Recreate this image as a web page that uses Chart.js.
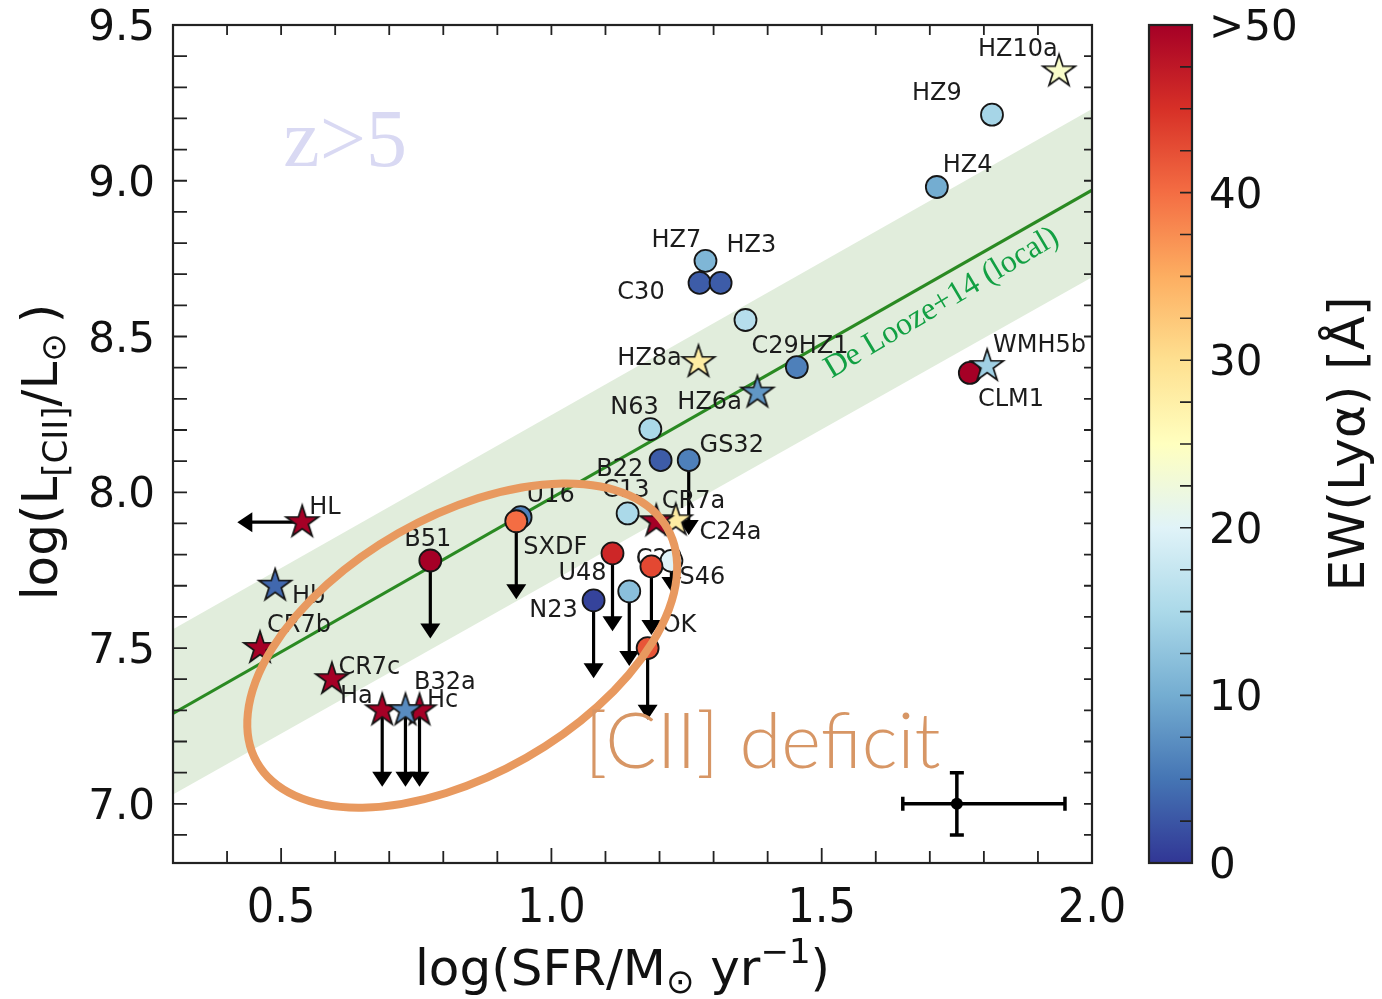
<!DOCTYPE html>
<html>
<head>
<meta charset="utf-8">
<script src="https://cdn.jsdelivr.net/npm/chart.js@4.4.1/dist/chart.umd.min.js"></script>
<style>
  html, body { margin: 0; padding: 0; background: #fff; }
  #wrap { width: 1382px; height: 999px; position: relative; }
</style>
</head>
<body>
<div id="wrap"><canvas id="chart"></canvas></div>
<script>
/* ===== [CII] vs SFR at z>5 ===== */

// axes
const X_MIN = 0.3, X_MAX = 2.0;
const Y_MIN = 6.81, Y_MAX = 9.5;
const X_TICKS = [0.5, 1.0, 1.5, 2.0];
const Y_TICKS = [7.0, 7.5, 8.0, 8.5, 9.0, 9.5];
const CB_TICKS = [0, 10, 20, 30, 40, 50];
const CB_TICK_LABELS = ["0", "10", "20", "30", "40", ">50"];
const EW_MAX = 50;

// De Looze+14 local relation and its scatter band (read at x = 0.3 and 2.0)
const fitX = [0.3, 2.0];
const fitY = [7.29, 8.97];
const bandHi = [7.56, 9.23];
const bandLo = [7.03, 8.69];

// circles: log SFR, log L[CII], EW(Lya), upper-limit depth (dex, 0 = detection)
const circName  = ["HZ7", "C30", "HZ3", "HZ9", "HZ4", "C29", "HZ1", "CLM1", "N63", "B22", "GS32", "C13", "U16", "SXDF", "B51", "U48", "S46", "C20", "N23", "C24", "OK"];
const circSFR   = [1.285, 1.274, 1.313, 1.815, 1.713, 1.359, 1.454, 1.774, 1.183, 1.202, 1.254, 1.141, 0.943, 0.935, 0.776, 1.113, 1.222, 1.185, 1.078, 1.144, 1.178];
const circCII   = [8.743, 8.672, 8.672, 9.212, 8.980, 8.553, 8.402, 8.383, 8.203, 8.103, 8.103, 7.932, 7.920, 7.907, 7.781, 7.804, 7.780, 7.762, 7.653, 7.682, 7.500];
const circEW    = [11, 3, 3, 14.5, 10, 16, 6, 50, 15, 3, 6, 15, 6, 40, 50, 46, 20, 43, 1, 12, 42];
const circLimit = [0, 0, 0, 0, 0, 0, 0, 0, 0, 0, 0.24, 0, 0, 0.25, 0.25, 0.25, 0.10, 0.22, 0.25, 0.24, 0.23];

// stars (multi-component systems)
const starName  = ["HL", "Hb", "CR7b", "CR7c", "Ha", "Hc", "B32a", "HZ8a", "HZ6a", "C24a", "CR7a", "HZ10a", "WMH5b"];
const starSFR   = [0.539, 0.489, 0.461, 0.594, 0.687, 0.756, 0.730, 1.272, 1.381, 1.230, 1.194, 1.939, 1.806];
const starCII   = [7.904, 7.700, 7.500, 7.400, 7.300, 7.300, 7.300, 8.418, 8.320, 7.910, 7.907, 9.351, 8.405];
const starEW    = [50, 4, 50, 50, 50, 50, 7, 28, 8, 28, 50, 24, 14];
const starLimit = [0, 0, 0, 0, 0.245, 0.245, 0.245, 0, 0, 0, 0, 0, 0];
const starSFRLimit = [0.12, 0, 0, 0, 0, 0, 0, 0, 0, 0, 0, 0, 0];   // arrow to the left

// name tags: text, log SFR, log L[CII] of the text's left baseline
const labelText = ["HZ10a", "HZ9", "HZ4", "HZ7", "HZ3", "C30", "HZ8a", "C29HZ1", "WMH5b", "CLM1", "N63", "HZ6a", "GS32", "B22", "C13", "U16", "CR7a", "C24a", "HL", "B51", "SXDF", "U48", "C20", "S46", "N23", "OK", "Hb", "CR7b", "CR7c", "Ha", "B32a", "Hc"];
const labelX    = [1.789, 1.667, 1.724, 1.185, 1.324, 1.122, 1.122, 1.370, 1.817, 1.789, 1.109, 1.233, 1.274, 1.083, 1.094, 0.954, 1.204, 1.274, 0.552, 0.728, 0.948, 1.013, 1.156, 1.237, 0.959, 1.204, 0.520, 0.474, 0.606, 0.609, 0.746, 0.770];
const labelY    = [9.399, 9.260, 9.029, 8.788, 8.772, 8.621, 8.408, 8.447, 8.450, 8.277, 8.251, 8.267, 8.129, 8.051, 7.984, 7.968, 7.949, 7.849, 7.929, 7.826, 7.801, 7.720, 7.762, 7.707, 7.601, 7.550, 7.646, 7.550, 7.418, 7.322, 7.367, 7.312];

// typical uncertainty
const errPoint = { x: 1.75, y: 7.0, xLo: 0.10, xHi: 0.20, yLo: 0.10, yHi: 0.10 };

/* ===== colour map (RdYlBu reversed) ===== */
const RDYLBU_R = ["#313695", "#4575b4", "#74add1", "#abd9e9", "#e0f3f8", "#ffffbf",
                  "#fee090", "#fdae61", "#f46d43", "#d73027", "#a50026"];
const hex = h => [1, 3, 5].map(i => parseInt(h.slice(i, i + 2), 16));
function cmap(t) {
  t = Math.min(1, Math.max(0, t));
  const p = t * (RDYLBU_R.length - 1), i = Math.min(Math.floor(p), RDYLBU_R.length - 2), f = p - i;
  const a = hex(RDYLBU_R[i]), b = hex(RDYLBU_R[i + 1]);
  return "rgb(" + a.map((v, k) => Math.round(v + (b[k] - v) * f)).join(",") + ")";
}
const ewColor = ew => cmap(ew / EW_MAX);

function starCanvas(fill) {
  const R = 17, pad = 3, size = 2 * (R + pad);
  const c = document.createElement("canvas");
  c.width = c.height = size;
  const g = c.getContext("2d");
  g.translate(size / 2, size / 2);
  g.beginPath();
  for (let i = 0; i < 10; i++) {
    const r = i % 2 ? R * 0.382 : R, a = -Math.PI / 2 + i * Math.PI / 5;
    g.lineTo(r * Math.cos(a), r * Math.sin(a));
  }
  g.closePath();
  g.fillStyle = fill; g.fill();
  g.lineWidth = 1.7; g.strokeStyle = "#141414"; g.lineJoin = "miter"; g.stroke();
  return c;
}

/* ===== drawing helpers ===== */
const SANS = '"DejaVu Sans"';
const COND = '"DejaVu Sans Condensed"';

function richWidth(ctx, parts) {
  let w = 0;
  for (const p of parts) { ctx.font = p.font; w += ctx.measureText(p.t).width; }
  return w;
}
function drawRich(ctx, parts, x, y) {
  let cx = x;
  for (const p of parts) {
    ctx.font = p.font;
    ctx.fillText(p.t, cx, y + (p.dy || 0));
    cx += ctx.measureText(p.t).width;
  }
}

function arrowHead(ctx, x, y, dir) {
  // dir: "down" or "left", tip at (x, y)
  const w = 10, h = 15;
  ctx.beginPath();
  if (dir === "down") { ctx.moveTo(x, y); ctx.lineTo(x - w, y - h); ctx.lineTo(x + w, y - h); }
  else { ctx.moveTo(x, y); ctx.lineTo(x + h, y - w); ctx.lineTo(x + h, y + w); }
  ctx.closePath(); ctx.fill();
}

function drawLimits(chart) {
  const { ctx, scales: { x, y } } = chart;
  ctx.save();
  ctx.strokeStyle = "#000"; ctx.fillStyle = "#000"; ctx.lineWidth = 3.2;
  const down = (sx, sy, d) => {
    if (!d) return;
    const px = x.getPixelForValue(sx), y0 = y.getPixelForValue(sy), y1 = y.getPixelForValue(sy - d);
    ctx.beginPath(); ctx.moveTo(px, y0); ctx.lineTo(px, y1 - 8); ctx.stroke();
    arrowHead(ctx, px, y1, "down");
  };
  circSFR.forEach((v, i) => down(v, circCII[i], circLimit[i]));
  starSFR.forEach((v, i) => down(v, starCII[i], starLimit[i]));
  starSFR.forEach((v, i) => {
    const d = starSFRLimit[i];
    if (!d) return;
    const py = y.getPixelForValue(starCII[i]), x0 = x.getPixelForValue(v), x1 = x.getPixelForValue(v - d);
    ctx.beginPath(); ctx.moveTo(x0, py); ctx.lineTo(x1 + 8, py); ctx.stroke();
    arrowHead(ctx, x1, py, "left");
  });
  ctx.restore();
}

function drawErrorBar(chart) {
  const { ctx, scales: { x, y } } = chart;
  const e = errPoint;
  const cx = x.getPixelForValue(e.x), cy = y.getPixelForValue(e.y);
  const xl = x.getPixelForValue(e.x - e.xLo), xr = x.getPixelForValue(e.x + e.xHi);
  const yt = y.getPixelForValue(e.y + e.yHi), yb = y.getPixelForValue(e.y - e.yLo);
  ctx.save();
  ctx.strokeStyle = "#000"; ctx.fillStyle = "#000"; ctx.lineWidth = 3.5;
  ctx.beginPath();
  ctx.moveTo(xl, cy); ctx.lineTo(xr, cy);
  ctx.moveTo(cx, yt); ctx.lineTo(cx, yb);
  ctx.moveTo(xl, cy - 7); ctx.lineTo(xl, cy + 7);
  ctx.moveTo(xr, cy - 7); ctx.lineTo(xr, cy + 7);
  ctx.moveTo(cx - 7, yt); ctx.lineTo(cx + 7, yt);
  ctx.moveTo(cx - 7, yb); ctx.lineTo(cx + 7, yb);
  ctx.stroke();
  ctx.beginPath(); ctx.arc(cx, cy, 6, 0, 2 * Math.PI); ctx.fill();
  ctx.restore();
}

function drawNameTags(chart) {
  const { ctx, scales: { x, y } } = chart;
  ctx.save();
  ctx.fillStyle = "#1c1c1c"; ctx.font = "24px " + SANS;
  ctx.textAlign = "left"; ctx.textBaseline = "alphabetic";
  labelText.forEach((t, i) => ctx.fillText(t, x.getPixelForValue(labelX[i]), y.getPixelForValue(labelY[i])));
  ctx.restore();
}

function drawAnnotations(chart) {
  const { ctx, chartArea: a, scales: { x, y } } = chart;
  ctx.save();
  // De Looze label along the relation
  const p0 = [x.getPixelForValue(fitX[0]), y.getPixelForValue(fitY[0])];
  const p1 = [x.getPixelForValue(fitX[1]), y.getPixelForValue(fitY[1])];
  const ang = Math.atan2(p1[1] - p0[1], p1[0] - p0[0]);
  ctx.save();
  ctx.translate(x.getPixelForValue(1.518), y.getPixelForValue(8.365));
  ctx.rotate(ang - 0.02);
  ctx.fillStyle = "#12a043"; ctx.font = '32px "Liberation Serif"';
  ctx.textAlign = "left"; ctx.textBaseline = "alphabetic";
  ctx.fillText("De Looze+14 (local)", 0, 0);
  ctx.restore();

  // redshift tag
  ctx.fillStyle = "#d9d9f3"; ctx.font = '82px "Liberation Serif"';
  ctx.textAlign = "left"; ctx.textBaseline = "alphabetic";
  ctx.fillText("z>5", a.left + 0.12 * (a.right - a.left), a.top + 0.168 * (a.bottom - a.top));

  // deficit region
  const pxPerX = x.getPixelForValue(1) - x.getPixelForValue(0);
  ctx.strokeStyle = "#e8995f"; ctx.lineWidth = 8;
  ctx.beginPath();
  ctx.ellipse(x.getPixelForValue(0.835), y.getPixelForValue(7.508), 0.437 * pxPerX, 0.239 * pxPerX,
    -29.7 * Math.PI / 180, 0, 2 * Math.PI);
  ctx.stroke();
  ctx.fillStyle = "#d79665"; ctx.font = '300 76px "Lato"';
  ctx.fillText("[CII] deficit", a.left + 0.448 * (a.right - a.left), a.top + 0.887 * (a.bottom - a.top));
  ctx.restore();
}

function drawAxes(chart) {
  const { ctx, chartArea: a, scales: { x, y } } = chart;
  ctx.save();
  ctx.strokeStyle = "#222"; ctx.lineWidth = 1.8;
  ctx.beginPath();
  for (let k = 4; k <= 19; k++) {
    const v = k / 10, px = x.getPixelForValue(v), major = k % 5 === 0;
    ctx.moveTo(px, a.bottom); ctx.lineTo(px, a.bottom - (major ? 15 : 12));
    ctx.moveTo(px, a.top); ctx.lineTo(px, a.top + 10);
  }
  for (let k = 69; k <= 94; k++) {
    const py = y.getPixelForValue(k / 10);
    ctx.moveTo(a.left, py); ctx.lineTo(a.left + 14, py);
    ctx.moveTo(a.right, py); ctx.lineTo(a.right - 8, py);
  }
  ctx.stroke();
  ctx.lineWidth = 2.2; ctx.strokeStyle = "#222";
  ctx.strokeRect(a.left, a.top, a.right - a.left, a.bottom - a.top);

  // tick labels
  ctx.fillStyle = "#111";
  ctx.textBaseline = "alphabetic";
  ctx.textAlign = "center"; ctx.font = "48px " + COND;
  X_TICKS.forEach(v => ctx.fillText(v.toFixed(1), x.getPixelForValue(v), a.bottom + 59));
  ctx.textAlign = "right"; ctx.font = "42px " + SANS;
  Y_TICKS.forEach(v => ctx.fillText(v.toFixed(1), a.left - 18, y.getPixelForValue(v) + 15));

  // axis titles
  const big = "50px " + SANS, small = "34px " + SANS;
  ctx.textAlign = "left";
  const xt = [
    { t: "log(SFR/M", font: big }, { t: "\u2299", font: small, dy: 8 },
    { t: " yr", font: big }, { t: "\u22121", font: small, dy: -22 }, { t: ")", font: big }];
  const xw = richWidth(ctx, xt);
  drawRich(ctx, xt, (a.left + a.right) / 2 - xw / 2 - 10, 985);

  const yt = [
    { t: "log(L", font: big }, { t: "[CII]", font: small, dy: 10 },
    { t: "/L", font: big }, { t: "\u2299", font: small, dy: 8 }, { t: "\u2009)", font: big }];
  const yw = richWidth(ctx, yt);
  ctx.translate(57, (a.top + a.bottom) / 2);
  ctx.rotate(-Math.PI / 2);
  drawRich(ctx, yt, -yw / 2 - 8, 0);
  ctx.restore();
}

function drawColorbar(chart) {
  const { ctx, chartArea: a } = chart;
  const L = 1149, R = 1192, T = a.top, B = a.bottom;
  const cy = v => B - (v / EW_MAX) * (B - T);
  ctx.save();
  const grad = ctx.createLinearGradient(0, B, 0, T);
  RDYLBU_R.forEach((c, i) => grad.addColorStop(i / (RDYLBU_R.length - 1), c));
  ctx.fillStyle = grad;
  ctx.fillRect(L, T, R - L, B - T);
  ctx.strokeStyle = "#222"; ctx.lineWidth = 1.6;
  ctx.beginPath();
  for (let v = 2.5; v < EW_MAX; v += 2.5) { ctx.moveTo(R, cy(v)); ctx.lineTo(R - 12, cy(v)); }
  ctx.stroke();
  ctx.lineWidth = 2.2;
  ctx.strokeRect(L, T, R - L, B - T);

  ctx.fillStyle = "#111"; ctx.font = "42px " + SANS;
  ctx.textAlign = "left"; ctx.textBaseline = "alphabetic";
  CB_TICKS.forEach((v, i) => ctx.fillText(CB_TICK_LABELS[i], R + 17, cy(v) + 15));

  ctx.translate(1364, (T + B) / 2);
  ctx.rotate(-Math.PI / 2);
  ctx.textAlign = "center"; ctx.font = "50px " + SANS;
  ctx.fillText("EW(Ly\u03b1) [\u00c5]", 0, 0);
  ctx.restore();
}

const FIT_INDEX = 2;
const decor = {
  id: "decor",
  afterDatasetDraw(chart, args) {
    if (args.index === FIT_INDEX) { drawLimits(chart); drawNameTags(chart); }
  },
  afterDatasetsDraw(chart) {
    drawErrorBar(chart);
    drawAnnotations(chart);
  },
  afterDraw(chart) {
    drawAxes(chart);
    drawColorbar(chart);
  }
};

/* ===== chart ===== */
const pts = (xs, ys) => xs.map((v, i) => ({ x: v, y: ys[i] }));

new Chart(document.getElementById("chart"), {
  type: "scatter",
  data: {
    datasets: [
      { type: "line", data: pts(fitX, bandHi), fill: "+1", backgroundColor: "#e1eddc",
        borderWidth: 0, pointRadius: 0, order: 5 },
      { type: "line", data: pts(fitX, bandLo), fill: false, borderWidth: 0, pointRadius: 0, order: 5 },
      { type: "line", data: pts(fitX, fitY), fill: false, borderColor: "#2a8a22", borderWidth: 3.2,
        pointRadius: 0, order: 3 },
      { type: "scatter", data: pts(circSFR, circCII), pointStyle: "circle", pointRadius: 11,
        backgroundColor: circEW.map(ewColor), borderColor: "#161616", borderWidth: 1.8, order: 2 },
      { type: "scatter", data: pts(starSFR, starCII), pointStyle: starEW.map(ew => starCanvas(ewColor(ew))),
        pointRadius: 17, order: 1 }
    ]
  },
  options: {
    responsive: true, maintainAspectRatio: false, animation: false, events: [],
    layout: { padding: { top: 25, right: 290, left: 0, bottom: 0 } },
    plugins: { legend: { display: false }, tooltip: { enabled: false } },
    scales: {
      x: { type: "linear", min: X_MIN, max: X_MAX, grid: { display: false }, border: { display: false },
           ticks: { display: false }, afterFit: s => { s.height = 136; } },
      y: { type: "linear", min: Y_MIN, max: Y_MAX, grid: { display: false }, border: { display: false },
           ticks: { display: false }, afterFit: s => { s.width = 173; } }
    }
  },
  plugins: [decor]
});
</script>
</body>
</html>
